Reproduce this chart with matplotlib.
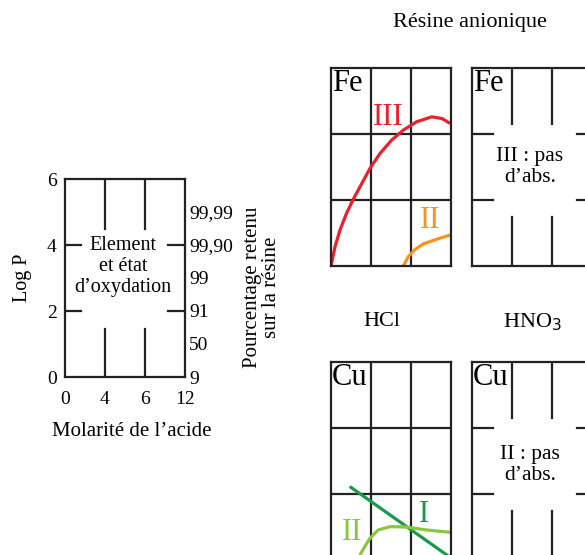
import matplotlib.pyplot as plt

# schematic axis: column positions 0..3 carry these molarity labels
x_labels = ['0', '4', '6', '12']
logp_ticks = [0, 2, 4, 6]
pct_ticks = [0, 1, 2, 3, 4, 5]
pct_labels = ['9', '50', '91', '99', '99,90', '99,99']

# Fe in HCl (x in column units, y in log P)
fe3_x = [0.0, 0.1, 0.225, 0.39, 0.56, 0.77, 0.975, 1.225, 1.52, 1.81, 2.14, 2.52, 2.77, 2.98]
fe3_y = [0.0, 0.58, 1.09, 1.6, 2.03, 2.5, 2.96, 3.41, 3.82, 4.12, 4.37, 4.52, 4.47, 4.32]
fe2_x = [1.81, 1.93, 2.1, 2.31, 2.64, 2.98]
fe2_y = [0.0, 0.28, 0.5, 0.67, 0.81, 0.94]

# Cu in HCl
cu1_x = [0.5, 2.98]
cu1_y = [2.2, 0.08]
cu2_x = [0.68, 0.725, 0.85, 0.975, 1.18, 1.475, 1.89, 2.39, 2.98]
cu2_y = [0.0, 0.15, 0.42, 0.66, 0.91, 1.01, 1.0, 0.91, 0.84]

RED = '#e8212b'
ORANGE = '#f7941d'
DKGREEN = '#1a9a4a'
LTGREEN = '#8cc63f'
INK = '#222222'
LW = 1.6
CW = 2.3

plt.rcParams['font.family'] = 'Liberation Serif'

fig = plt.figure(figsize=(5.85, 5.55), dpi=100)
W, H = 585, 555


def make_ax(px, py):
    # px, py: top-left pixel of the 120x198 box
    ax = fig.add_axes([px / W, 1 - (py + 198) / H, 120 / W, 198 / H])
    ax.set_xlim(0, 3)
    ax.set_ylim(0, 6)
    ax.set_xticks([])
    ax.set_yticks([])
    for s in ax.spines.values():
        s.set_linewidth(LW)
        s.set_color(INK)
    return ax


def full_grid(ax):
    for x in [1, 2]:
        ax.plot([x, x], [0, 6], color=INK, lw=LW)
    for y in [2, 4]:
        ax.plot([0, 3], [y, y], color=INK, lw=LW)


def broken_grid(ax, top_end, bot_end, left_end, right_start):
    for x in [1, 2]:
        ax.plot([x, x], [top_end, 6], color=INK, lw=LW)
        ax.plot([x, x], [0, bot_end], color=INK, lw=LW)
    for y in [2, 4]:
        ax.plot([0, left_end], [y, y], color=INK, lw=LW)
        ax.plot([right_start, 3], [y, y], color=INK, lw=LW)


# left legend schematic
ax0 = make_ax(65, 179)
broken_grid(ax0, 4.5, 1.45, 0.4, 2.58)
ax0.set_xticks(range(4))
ax0.set_xticklabels(x_labels, fontsize=14)
ax0.set_yticks(logp_ticks)
ax0.set_yticklabels([str(v) for v in logp_ticks], fontsize=14)
ax0.tick_params(axis='x', length=0, pad=10)
ax0.tick_params(axis='y', length=0, pad=6)
axr = ax0.twinx()
axr.set_ylim(0, 6)
axr.set_yticks(pct_ticks)
axr.set_yticklabels(pct_labels, fontsize=14)
axr.tick_params(axis='y', length=0, pad=3)
for s in axr.spines.values():
    s.set_visible(False)
ax0.text(1.45, 3.35, 'Element\net état\nd\u2019oxydation', ha='center', va='center',
         fontsize=14.5, linespacing=1.12)

fig.text(22 / W, 1 - 278 / H, 'Log P', rotation=90, ha='center', va='center', fontsize=14.5)
fig.text(262 / W, 1 - 287 / H, 'Pourcentage retenu\nsur la résine', rotation=90,
         ha='center', va='center', fontsize=15, linespacing=1.05)
fig.text(132 / W, 1 - 432 / H, 'Molarité de l\u2019acide', ha='center', va='center', fontsize=15)

# Fe HCl
ax1 = make_ax(331, 68)
full_grid(ax1)
ax1.plot(fe3_x, fe3_y, color=RED, lw=CW, solid_capstyle='butt', solid_joinstyle='round')
ax1.plot(fe2_x, fe2_y, color=ORANGE, lw=CW, solid_capstyle='butt', solid_joinstyle='round')
ax1.text(1.43, 4.5, 'III', color=RED, fontsize=22, ha='center', va='center')
ax1.text(2.48, 1.38, 'II', color=ORANGE, fontsize=22, ha='center', va='center')
ax1.text(0.03, 5.97, 'Fe', fontsize=22, ha='left', va='top')

# Fe HNO3
ax2 = make_ax(472, 68)
broken_grid(ax2, 4.3, 1.48, 0.52, 2.62)
ax2.text(0.03, 5.97, 'Fe', fontsize=22, ha='left', va='top')
ax2.text(1.45, 3.0, 'III : pas\nd\u2019abs.', fontsize=15.5, ha='center', va='center',
         linespacing=1.1)

# Cu HCl
ax3 = make_ax(331, 362)
full_grid(ax3)
ax3.plot(cu1_x, cu1_y, color=DKGREEN, lw=CW)
ax3.plot(cu2_x, cu2_y, color=LTGREEN, lw=CW, solid_joinstyle='round')
ax3.text(2.33, 1.38, 'I', color=DKGREEN, fontsize=22, ha='center', va='center')
ax3.text(0.53, 0.82, 'II', color=LTGREEN, fontsize=22, ha='center', va='center')
ax3.text(0.03, 5.97, 'Cu', fontsize=22, ha='left', va='top')

# Cu HNO3
ax4 = make_ax(472, 362)
broken_grid(ax4, 4.3, 1.48, 0.52, 2.62)
ax4.text(0.03, 5.97, 'Cu', fontsize=22, ha='left', va='top')
ax4.text(1.45, 2.88, 'II : pas\nd\u2019abs.', fontsize=15.5, ha='center', va='center',
         linespacing=1.1)

fig.text(470 / W, 1 - 22 / H, 'Résine anionique', ha='center', va='center', fontsize=16)
fig.text(382 / W, 1 - 322 / H, 'HCl', ha='center', va='center', fontsize=16)
fig.text(532 / W, 1 - 322 / H, 'HNO$_3$', ha='center', va='center', fontsize=16)

fig.savefig('out.png', dpi=100)
